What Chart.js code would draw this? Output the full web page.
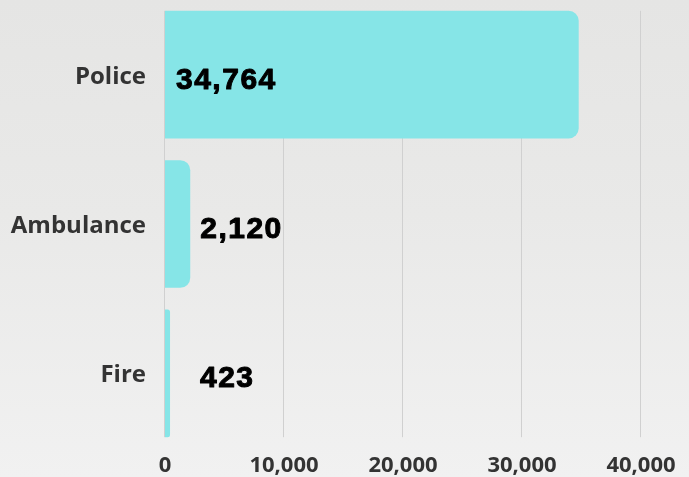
<!DOCTYPE html>
<html lang="en">
<head>
    <meta charset="UTF-8">
    <title>Calls by service</title>
    <script src="https://cdn.jsdelivr.net/npm/chart.js"></script>
    <style>
        html, body {
            margin: 0;
            padding: 0;
        }
        body {
            width: 689px;
            height: 477px;
            overflow: hidden;
            background: linear-gradient(180deg, #e5e5e4 0%, #e9e9e8 45%, #f1f1f1 100%);
        }
    </style>
</head>
<body>
    <canvas id="serviceChart" width="689" height="477"></canvas>

    <script>
        // data
        const services = ['Police', 'Ambulance', 'Fire'];
        const calls = [34764, 2120, 423];
        const axisTicks = [0, 10000, 20000, 30000, 40000];

        const barColor = '#86e5e7';
        const gridColor = '#d0d0d0';

        // thousands separator without relying on the locale
        const fmt = v => String(v).replace(/\B(?=(\d{3})+(?!\d))/g, ',');

        // vertical grid lines, only as tall as the bars
        const gridPlugin = {
            id: 'shortGrid',
            beforeDatasetsDraw(chart) {
                const meta = chart.getDatasetMeta(0);
                const first = meta.data[0];
                const last = meta.data[meta.data.length - 1];
                const top = first.y - first.height / 2;
                const bottom = last.y + last.height / 2;
                const x = chart.scales.x;
                const ctx = chart.ctx;
                ctx.save();
                ctx.strokeStyle = gridColor;
                ctx.lineWidth = 1;
                axisTicks.forEach(v => {
                    const px = Math.round(x.getPixelForValue(v)) - 0.5;
                    ctx.beginPath();
                    ctx.moveTo(px, top);
                    ctx.lineTo(px, bottom);
                    ctx.stroke();
                });
                ctx.restore();
            }
        };

        // value labels: inside the bar when it fits, otherwise to the right of it
        const valuePlugin = {
            id: 'valueLabels',
            afterDatasetsDraw(chart) {
                const meta = chart.getDatasetMeta(0);
                const zero = chart.scales.x.getPixelForValue(0);
                const ctx = chart.ctx;
                ctx.save();
                ctx.font = 'bold 30px "Liberation Sans", Arial, sans-serif';
                ctx.letterSpacing = '1.5px';
                ctx.fillStyle = '#000';
                ctx.strokeStyle = '#000';
                ctx.lineWidth = 1;
                ctx.lineJoin = 'round';
                ctx.textAlign = 'left';
                ctx.textBaseline = 'alphabetic';
                meta.data.forEach((bar, i) => {
                    const text = fmt(calls[i]);
                    const w = ctx.measureText(text).width;
                    let px;
                    if (bar.x - zero > w + 30) {
                        px = zero + 11;
                    } else {
                        px = Math.max(bar.x + 10, zero + 35);
                    }
                    ctx.fillText(text, px, bar.y + 14);
                    ctx.strokeText(text, px, bar.y + 14);
                });
                ctx.restore();
            }
        };

        const ctx = document.getElementById('serviceChart').getContext('2d');

        new Chart(ctx, {
            type: 'bar',
            data: {
                labels: services,
                datasets: [{
                    data: calls,
                    backgroundColor: barColor,
                    borderWidth: 0,
                    borderRadius: 10,
                    borderSkipped: 'start',
                    barPercentage: 0.855,
                    categoryPercentage: 1
                }]
            },
            options: {
                indexAxis: 'y',
                responsive: false,
                animation: false,
                layout: {
                    padding: { top: 0, right: 48, bottom: 0, left: 0 }
                },
                plugins: {
                    legend: { display: false },
                    tooltip: { enabled: false }
                },
                scales: {
                    x: {
                        min: 0,
                        max: 40000,
                        afterBuildTicks(scale) {
                            scale.ticks = axisTicks.map(v => ({ value: v }));
                        },
                        afterFit(scale) {
                            scale.height = 29;
                        },
                        grid: { display: false, drawTicks: false },
                        border: { display: false },
                        ticks: {
                            padding: 5,
                            color: '#333',
                            font: { family: '"Open Sans"', weight: 'bold', size: 22 },
                            callback: v => fmt(v)
                        }
                    },
                    y: {
                        // fixed axis width, and no extra room above/below for the labels
                        afterFit(scale) {
                            scale.width = 165;
                            scale.paddingTop = 0;
                            scale.paddingBottom = 0;
                        },
                        grid: { display: false, drawTicks: false },
                        border: { display: false },
                        ticks: {
                            padding: 19,
                            labelOffset: 2,
                            color: '#333',
                            font: { family: '"Open Sans"', weight: 'bold', size: 24 }
                        }
                    }
                }
            },
            plugins: [gridPlugin, valuePlugin]
        });
    </script>
</body>
</html>
